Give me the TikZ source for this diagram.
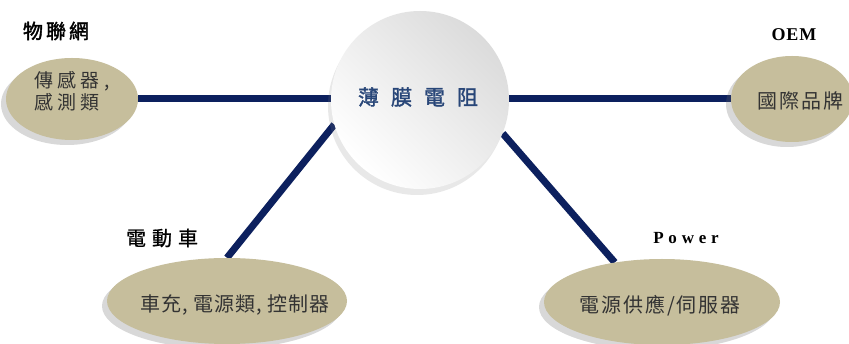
\documentclass[tikz,border=0pt]{standalone}
\usepackage{fontspec}
\setmainfont{Liberation Serif}
\newfontfamily\cjk{Noto Sans CJK TC}
\usetikzlibrary{shadows,backgrounds,shapes.geometric}
\definecolor{navy}{RGB}{12,32,94}
\definecolor{khaki}{RGB}{198,190,156}
\definecolor{ctext}{RGB}{40,70,120}
\tikzset{
  conn/.style={draw=navy,line width=7pt},
  leaf/.style={ellipse,fill=khaki,inner sep=0pt,
    drop shadow={shadow xshift=-5pt,shadow yshift=-5pt,opacity=0.25,fill=black!60}},
  leaftext/.style={font=\cjk\fontsize{20}{26}\selectfont,text=black!80,align=left},
  grouplabel/.style={font=\cjk\fontsize{20}{22}\selectfont,text=black},
  latinlabel/.style={font=\bfseries\fontsize{18}{20}\selectfont,text=black}
}
\begin{document}
\begin{tikzpicture}[x=1pt,y=-1pt]
\useasboundingbox (0,0) rectangle (849,344);
\clip (0,0) rectangle (849,344);
% nodes
\node[circle,minimum size=178pt,inner sep=0pt,
  left color=white,right color=black!14,shading angle=135,
  drop shadow={shadow xshift=-3pt,shadow yshift=-6pt,opacity=0.18,fill=black!50}] (C) at (420,100) {};
\node[font=\cjk\fontsize{21}{22}\selectfont\addfontfeatures{FakeBold=1.5},text=ctext] (Ct) at (418,97) {薄\hspace{12pt}膜\hspace{12pt}電\hspace{12pt}阻};
\node[leaf,minimum width=132pt,minimum height=82pt] (L) at (72,99) {};
\node[leaftext,font=\cjk\fontsize{19}{22}\selectfont\addfontfeatures{LetterSpace=22}] (Lt) at (72,91) {傳感器,\\感測類};
\node[leaf,minimum width=122pt,minimum height=86pt] (R) at (792,99) {};
\node[leaftext] (Rt) at (800,101) {\addfontfeatures{LetterSpace=10}國際品牌};
\node[leaf,minimum width=240pt,minimum height=86pt] (BL) at (227,301) {};
\node[leaftext] (BLt) at (235,305) {\addfontfeatures{LetterSpace=5}車充,\hspace{5pt}電源類,\hspace{5pt}控制器};
\node[leaf,minimum width=236pt,minimum height=86pt] (BR) at (662,302) {};
\node[leaftext] (BRt) at (660,306) {\addfontfeatures{LetterSpace=10}電源供應/伺服器};
% labels
\node[grouplabel] (g1) at (56,31) {\addfontfeatures{LetterSpace=15,FakeBold=2}物聯網};
\node[grouplabel] (g2) at (162,238) {\addfontfeatures{LetterSpace=30,FakeBold=0.8}電動車};
\node[latinlabel] (g3) at (794,35) {\addfontfeatures{LetterSpace=5}OEM};
\node[latinlabel,font=\bfseries\fontsize{17}{20}\selectfont] (g4) at (686,238) {\addfontfeatures{LetterSpace=28}Power};
% background and connectors
\begin{scope}[on background layer]
\fill[white] (0,0) rectangle (849,344);
\draw[conn] (L.east) -- (L.east -| C.west);
\draw[conn] (R.west -| C.east) -- (R.west);
\draw[conn] (BL.north) -- (C.196);
\draw[conn] (BR.140) -- (C.-22);
\end{scope}
\end{tikzpicture}
\end{document}
